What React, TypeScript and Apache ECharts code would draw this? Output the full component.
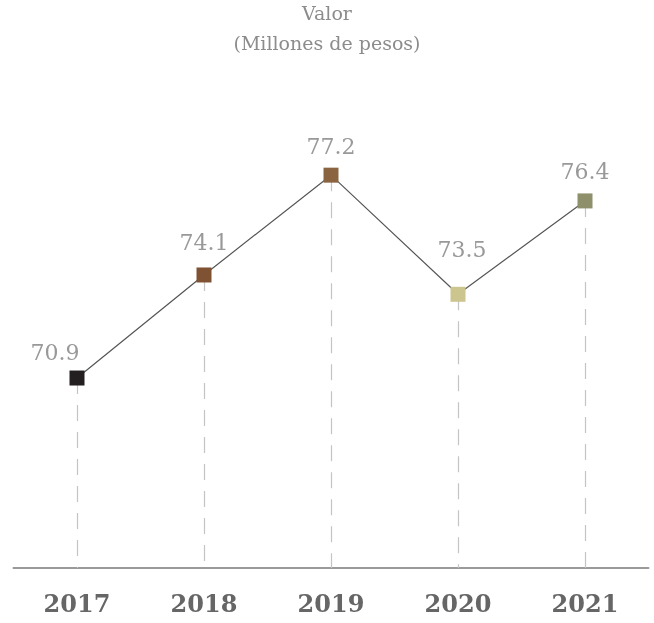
import React, { useEffect, useRef } from "react";
import * as echarts from "echarts";

const years = ["2017", "2018", "2019", "2020", "2021"];
const values = [70.9, 74.1, 77.2, 73.5, 76.4];
const pointColors = ["#231f20", "#7f5233", "#8a6440", "#cdc58e", "#8e8f6b"];
const titleLines = ["Valor", "(Millones de pesos)"];
const yMin = 65;
const yMax = 80;

export default function App() {
  const ref = useRef<HTMLDivElement>(null);
  useEffect(() => {
    if (!ref.current) return;
    const chart = echarts.init(ref.current, null, { renderer: "svg" });
    const serif = "'DejaVu Serif', 'Liberation Serif', serif";
    const labelOffsets = [
      [-22, 0],
      [0, -7],
      [0, -3],
      [4, -19],
      [0, -4],
    ];
    chart.setOption({
      animation: false,
      title: {
        text: titleLines.join("\n"),
        left: "center",
        top: -7,
        textStyle: {
          fontFamily: serif,
          fontSize: 19,
          fontWeight: "normal",
          color: "#8c8c8c",
          lineHeight: 30,
        },
      },
      grid: { left: 13.5, right: 5.5, top: 85, bottom: 55 },
      xAxis: {
        type: "category",
        data: years,
        boundaryGap: true,
        axisLine: { lineStyle: { color: "#9a9a9a", width: 2 } },
        axisTick: { show: false },
        axisLabel: {
          fontFamily: serif,
          fontSize: 24,
          fontWeight: "bold",
          color: "#666666",
          margin: 23,
        },
      },
      yAxis: {
        type: "value",
        min: yMin,
        max: yMax,
        show: false,
        splitLine: { show: false },
      },
      series: [
        {
          type: "line",
          data: values,
          symbol: "none",
          lineStyle: { opacity: 0 },
          silent: true,
          z: 1,
          markLine: {
            silent: true,
            z: 1,
            symbol: "none",
            label: { show: false },
            lineStyle: { color: "#c4c4c4", width: 1.2, type: [16, 11] },
            data: values.map((v, i) => [
              { coord: [i, v] },
              { coord: [i, yMin] },
            ]),
          },
        },
        {
          type: "line",
          data: values.map((v, i) => ({
            value: v,
            itemStyle: { color: pointColors[i] },
            label: { offset: labelOffsets[i] },
          })),
          symbol: "rect",
          symbolSize: 15,
          lineStyle: { color: "#555555", width: 1.2 },
          label: {
            show: true,
            position: "top",
            distance: 7,
            fontFamily: serif,
            fontSize: 22,
            color: "#999999",
          },
          z: 10,
        },
      ],
    });
    return () => chart.dispose();
  }, []);
  return (
    <div
      ref={ref}
      style={{ position: "fixed", left: 0, top: 0, width: 654, height: 623 }}
    />
  );
}
